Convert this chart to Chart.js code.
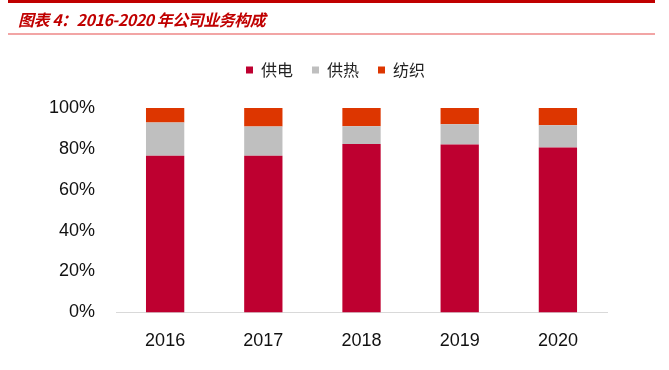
<!DOCTYPE html>
<html>
<head>
<meta charset="utf-8">
<script src="https://cdn.jsdelivr.net/npm/chart.js@4"></script>
<style>
  html, body { margin: 0; padding: 0; background: #fff; }
  #wrap { position: relative; width: 669px; height: 370px; overflow: hidden; }
  #chart { position: absolute; left: 0; top: 0; }
  .topbar { position: absolute; left: 8px; top: 0; width: 647px; height: 3px; background: #c00000; }
  .rule { position: absolute; left: 8px; top: 33px; width: 647px; height: 2px; background: #f2a5a5; }
  .title {
    position: absolute; left: 18px; top: 7px;
    font: italic bold 16px "Noto Sans CJK SC", sans-serif;
    letter-spacing: -0.5px;
    color: #c00000; white-space: nowrap;
  }
</style>
</head>
<body>
<div id="wrap">
  <canvas id="chart" width="669" height="370"></canvas>
  <div class="topbar"></div>
  <div class="title">图表 4：2016-2020 年公司业务构成</div>
  <div class="rule"></div>
</div>
<script>
// datos (%)
const years = ['2016', '2017', '2018', '2019', '2020'];
const seriesNames = ['供电', '供热', '纺织'];
const gongdian = [76.7, 76.7, 82.4, 82.2, 80.7];
const gongre = [16.2, 14.2, 8.7, 9.9, 10.9];
const fangzhi = [7.1, 9.1, 8.9, 7.9, 8.4];
const colors = ['#be0030', '#bfbfbf', '#dd3600'];

const tickFont = { family: '"Liberation Sans", Arial, sans-serif', size: 18 };

// espacio extra debajo de la leyenda y leyenda centrada en el lienzo
const legendGap = {
  id: 'legendGap',
  beforeInit(chart) {
    const fit = chart.legend.fit;
    chart.legend.fit = function () {
      fit.bind(chart.legend)();
      this.height += 20;
    };
  },
  afterLayout(chart) {
    chart.legend.left += 18;
    chart.legend.right += 18;
  },
};

new Chart(document.getElementById('chart'), {
  type: 'bar',
  data: {
    labels: years,
    datasets: [gongdian, gongre, fangzhi].map((d, i) => ({
      label: seriesNames[i],
      data: d,
      backgroundColor: colors[i],
      borderWidth: 0,
      barPercentage: 0.39,
      categoryPercentage: 1,
    })),
  },
  options: {
    responsive: false,
    animation: false,
    layout: { padding: { left: 28, right: 62, top: 43, bottom: 0 } },
    plugins: {
      tooltip: { enabled: false },
      legend: {
        position: 'top',
        labels: {
          boxWidth: 7,
          boxHeight: 7,
          padding: 19,
          color: '#222',
          font: { family: '"Noto Sans CJK SC", sans-serif', size: 16 },
        },
      },
    },
    scales: {
      x: {
        stacked: true,
        grid: { display: false, drawTicks: false },
        border: { color: '#d9d9d9', width: 1 },
        ticks: { color: '#111', font: tickFont, padding: 18 },
      },
      y: {
        stacked: true,
        min: 0,
        max: 100,
        grid: { display: false, drawTicks: false },
        border: { display: false },
        ticks: {
          stepSize: 20,
          color: '#111',
          font: tickFont,
          padding: 21,
          callback: (v) => v + '%',
        },
      },
    },
  },
  plugins: [legendGap],
});
</script>
</body>
</html>
